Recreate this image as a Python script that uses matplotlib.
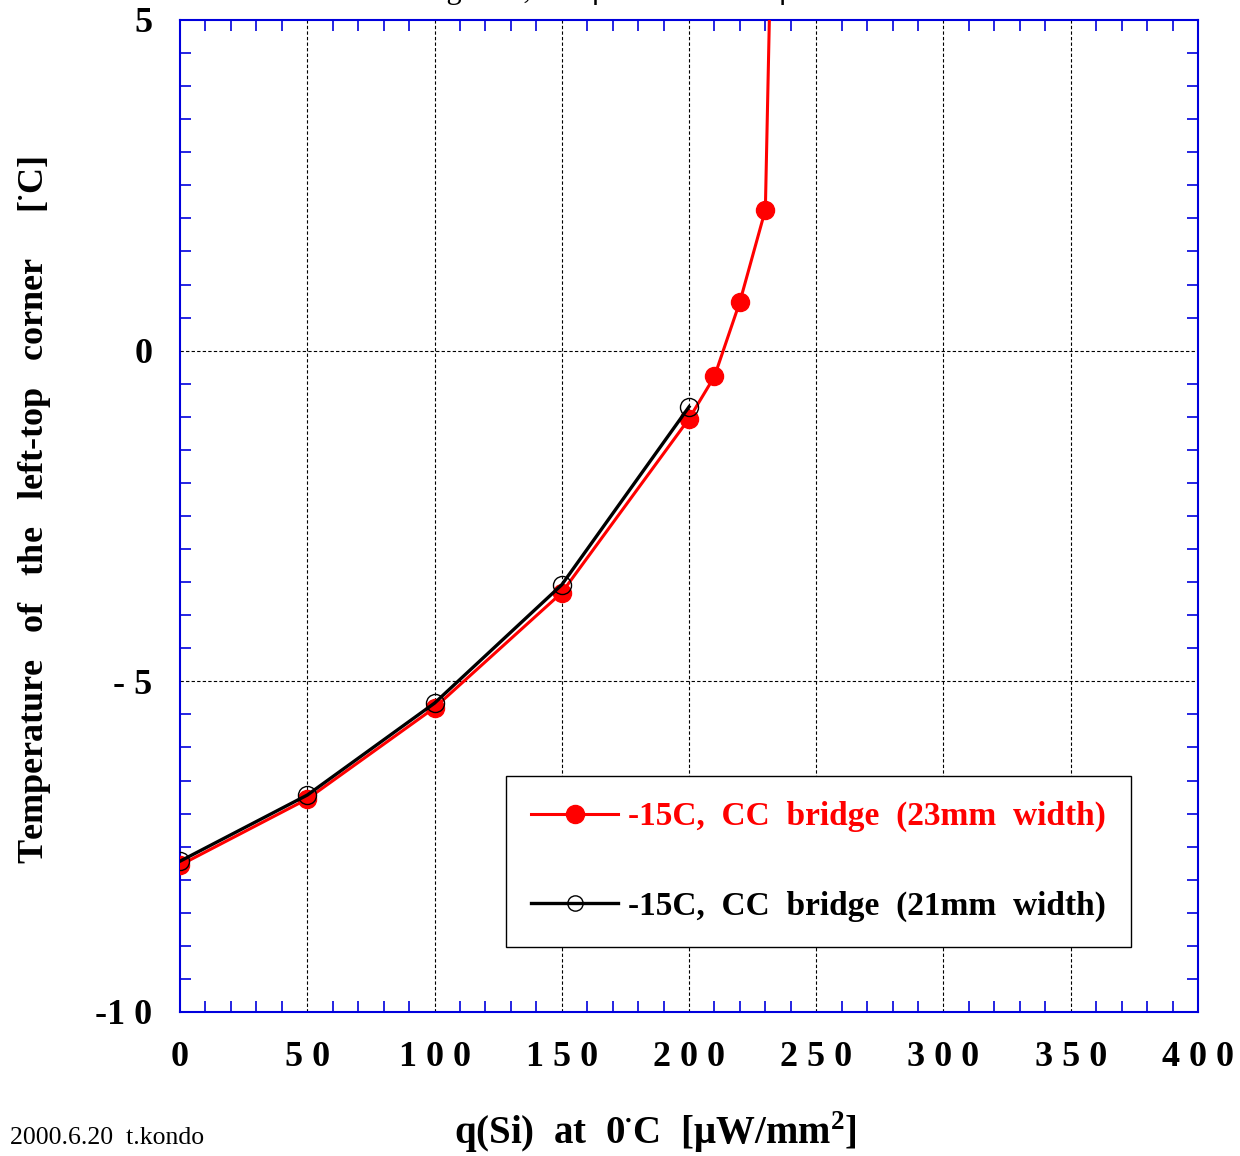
import numpy as np
import matplotlib
matplotlib.use("Agg")
import matplotlib.pyplot as plt
from matplotlib.ticker import MultipleLocator

# data
q_23mm = [0, 50, 100, 150, 200, 210, 220, 230, 240]
t_23mm = [-7.78, -6.78, -5.40, -3.66, -1.03, -0.39, 0.74, 2.13, 20.4]
q_21mm = [0, 50, 100, 150, 200]
t_21mm = [-7.72, -6.72, -5.33, -3.54, -0.85]

xticks = [0, 50, 100, 150, 200, 250, 300, 350, 400]
xticklabels = ["0", "5 0", "1 0 0", "1 5 0", "2 0 0", "2 5 0", "3 0 0", "3 5 0", "4 0 0"]
yticks = [-10, -5, 0, 5]
yticklabels = ["-1 0", "- 5", "0", "5"]

plt.rcParams['font.family'] = ['Liberation Serif', 'DejaVu Serif']
plt.rcParams['mathtext.fontset'] = 'custom'
plt.rcParams['mathtext.rm'] = 'Liberation Serif'
plt.rcParams['mathtext.bf'] = 'Liberation Serif:bold'

fig = plt.figure(figsize=(12.4, 11.56), dpi=100)
ax = fig.add_axes([0.1452, 0.1246, 0.8209, 0.8581])

blue = '#0000dd'
ax.plot(q_23mm, t_23mm, color='red', lw=2.2, marker='o', ms=13,
        mfc='red', mec='red', label='-15C,  CC  bridge  (23mm  width)', zorder=3)
ax.plot(q_21mm, t_21mm, color='black', lw=2.4, marker='o', ms=13,
        mfc='none', mec='black', mew=1.0, label='-15C,  CC  bridge  (21mm  width)', zorder=4)

ax.set_xlim(0, 400)
ax.set_ylim(-10, 5)

# dashed grid at the major positions
for xv in range(50, 400, 50):
    ax.axvline(xv, color='black', lw=0.8, ls=(0, (3, 2)), zorder=1)
for yv in [-5, 0]:
    ax.axhline(yv, color='black', lw=0.8, ls=(0, (3, 2)), zorder=1)

ax.set_xticks(xticks)
ax.set_xticklabels(xticklabels, fontsize=26, fontweight='bold')
ax.set_yticks(yticks)
ax.set_yticklabels(yticklabels, fontsize=26, fontweight='bold')
ax.xaxis.set_minor_locator(MultipleLocator(10))
ax.yaxis.set_minor_locator(MultipleLocator(0.5))
ax.tick_params(which='both', direction='in', color=blue, top=True, right=True, width=1.2)
ax.tick_params(which='major', length=0)
ax.tick_params(axis='y', which='major', pad=20)
ax.tick_params(axis='x', which='major', pad=21)
ax.tick_params(which='minor', length=8)
for s in ax.spines.values():
    s.set_color(blue)
    s.set_linewidth(1.5)

fig.text(655 / 1240, 1 - 1132 / 1156,
         r'q(Si)  at  0$^{\mathbf{\bullet}}$C  [$\mathbf{\mu}$W/mm$^{\mathbf{2}}$]',
         fontsize=28, fontweight='bold', ha='center', va='center')
fig.text(35 / 1240, 1 - 510 / 1156,
         'Temperature   of   the   left-top   corner     [$^{\\mathbf{\\bullet}}$C]',
         fontsize=26, fontweight='bold', ha='center', va='center', rotation=90)

leg = ax.legend(loc='lower right', bbox_to_anchor=(0.934, 0.0655), borderaxespad=0,
                prop={'weight': 'bold', 'size': 24}, frameon=True, fancybox=False,
                edgecolor='black', framealpha=1, handlelength=2.6, labelspacing=1.75,
                borderpad=0.75, handletextpad=0.3)
leg.get_frame().set_linewidth(1.0)
leg.get_texts()[0].set_color('red')
leg.legend_handles[1].set_markersize(11)

fig.text(0.008, 1 - 1138 / 1156, '2000.6.20  t.kondo', fontsize=18.5, ha='left', va='center')
fig.text(0.5, 1 + 2 / 1156, 'Figure 3,  300\u03bcm  Si  on  300\u03bcm', fontsize=22,
         ha='center', va='baseline')

fig.savefig('out.png', dpi=100)
